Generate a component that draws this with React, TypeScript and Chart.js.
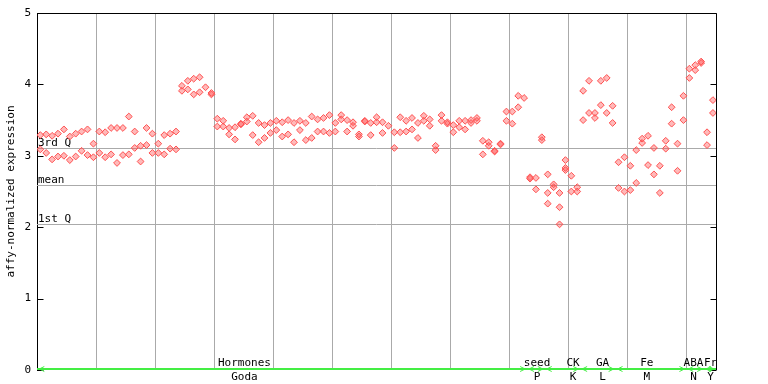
import React, { useEffect, useRef } from "react";
import { Chart, registerables } from "chart.js";

Chart.register(...registerables);

// Expression values per sample (index = sample position on the x axis)
const rep1: (number | null)[] = [
  3.29, 3.30, 3.28, 3.31, 3.37, 3.27, 3.31, 3.34, 3.37, 3.17,
  3.34, 3.33, 3.39, 3.39, 3.39, 3.55, 3.34, 3.14, 3.39, 3.31,
  3.17, 3.29, 3.31, 3.34, 3.98, 4.05, 4.08, 4.10, 3.96, 3.88,
  3.52, 3.49, 3.39, 3.40, 3.45, 3.54, 3.56, 3.46, 3.43, 3.46,
  3.49, 3.47, 3.50, 3.46, 3.49, 3.46, 3.55, 3.51, 3.53, 3.57,
  3.46, 3.57, 3.50, 3.47, 3.30, 3.49, 3.46, 3.54, 3.47, 3.42,
  3.33, 3.54, 3.49, 3.53, 3.46, 3.56, 3.51, 3.14, 3.57, 3.47,
  3.43, 3.49, 3.49, 3.50, 3.53, 3.21, 3.19, 3.07, 3.17, 3.62,
  3.62, 3.84, 3.81, 2.70, 2.69, 3.26, 2.74, 2.60, 2.48, 2.94,
  2.72, 2.56, 3.91, 4.05, 3.60, 4.05, 4.09, 3.70, 2.91, 2.98,
  2.86, 3.08, 3.24, 3.28, 3.11, 2.86, 3.21, 3.68, 3.17, 3.84,
  4.22, 4.27, 4.32, 3.33, 3.78,
];
const rep2: (number | null)[] = [
  3.09, 3.04, 2.95, 2.99, 3.00, 2.94, 2.99, 3.07, 3.01, 2.98,
  3.04, 2.98, 3.02, 2.90, 3.01, 3.02, 3.11, 2.92, 3.15, 3.04,
  3.04, 3.02, 3.10, 3.09, 3.91, 3.93, 3.86, 3.89, null, 3.86,
  3.41, 3.41, 3.30, 3.23, 3.44, 3.48, 3.29, 3.19, 3.25, 3.32,
  3.36, 3.27, 3.30, 3.19, 3.36, 3.22, 3.25, 3.34, 3.34, 3.32,
  3.34, 3.51, 3.34, 3.42, 3.27, 3.48, 3.29, 3.47, 3.32, null,
  3.11, 3.33, 3.34, 3.37, 3.25, 3.49, 3.42, 3.08, 3.49, 3.45,
  3.33, 3.40, 3.37, 3.46, 3.49, 3.02, 3.14, 3.06, 3.16, 3.49,
  3.45, 3.68, null, 2.68, 2.53, 3.22, 2.48, 2.56, 2.28, 2.83,
  2.50, 2.50, 3.50, 3.60, 3.53, 3.71, 3.60, 3.46, 2.55, 2.50,
  2.52, 2.62, 3.18, 2.87, 2.74, 2.48, 3.10, 3.45, 2.79, 3.50,
  4.09, 4.20, 4.30, 3.15, 3.60,
];
const rep3Index: number[] = [86, 88, 89];
const rep3Values: number[] = [2.33, 2.04, 2.80];

// Reference lines
const refNames: string[] = ["3rd Q", "mean", "1st Q"];
const refValues: number[] = [3.11, 2.59, 2.05];

// Y ticks
const yTicks: number[] = [0, 1, 2, 3, 4, 5];

// Sample groups
const groupNames: string[] = ["Hormones", "seed", "CK", "GA", "Fe", "ABA", "Fr"];
const groupSub: string[] = ["Goda", "P", "K", "L", "M", "N", "Y"];
const groupStart: number[] = [0, 83, 86, 92, 98, 110, 113];
const groupEnd: number[] = [82, 85, 91, 97, 109, 112, 114];
const groupLabelAt: number[] = [34.6, 84.2, 90.3, 95.3, 102.8, 110.7, 113.6];

const gridIdx: number[] = [9.44, 19.44, 29.44, 39.44, 49.44, 59.44, 69.44, 79.44, 89.44, 99.44, 109.44];

const FONT = "'DejaVu Sans Mono', monospace";
const RED = "#ff5050";

const toPoints = (arr: (number | null)[]) =>
  arr.map((v, i) => (v === null ? null : { x: i, y: v })).filter((p) => p !== null) as { x: number; y: number }[];

const overlay = {
  id: "overlay",
  beforeDatasetsDraw(chart: any) {
    const { ctx, chartArea } = chart;
    const y = chart.scales.y;
    ctx.save();
    ctx.strokeStyle = "#aaaaaa";
    ctx.lineWidth = 1;
    refValues.forEach((v, k) => {
      const py = Math.round(y.getPixelForValue(v)) + 0.5;
      ctx.beginPath();
      ctx.moveTo(chartArea.left, py);
      ctx.lineTo(chartArea.right, py);
      ctx.stroke();
      ctx.fillStyle = "#000";
      ctx.font = `11px ${FONT}`;
      ctx.textAlign = "left";
      ctx.textBaseline = "alphabetic";
      ctx.fillText(refNames[k], chartArea.left + 1, py - 2.5);
    });
    ctx.restore();
  },
  afterDraw(chart: any) {
    const { ctx, chartArea } = chart;
    const x = chart.scales.x;
    const y = chart.scales.y;
    const L = chartArea.left + 0.5;
    const R = Math.round(chartArea.right) + 0.5;
    const T = Math.round(chartArea.top) + 0.5;
    const B = chartArea.bottom;
    ctx.save();
    ctx.strokeStyle = "#000";
    ctx.lineWidth = 1;
    ctx.beginPath();
    ctx.moveTo(L, T);
    ctx.lineTo(R, T);
    ctx.lineTo(R, B);
    ctx.stroke();
    yTicks.forEach((v) => {
      const py = Math.round(y.getPixelForValue(v)) + 0.5;
      ctx.beginPath();
      ctx.moveTo(L, py);
      ctx.lineTo(L + 6, py);
      ctx.moveTo(R - 6, py);
      ctx.lineTo(R, py);
      ctx.stroke();
    });
    // green group line
    const gy = B - 1;
    ctx.strokeStyle = "#44ee44";
    ctx.lineWidth = 2;
    ctx.beginPath();
    ctx.moveTo(chartArea.left, gy);
    ctx.lineTo(chartArea.right, gy);
    ctx.stroke();
    ctx.lineWidth = 1;
    groupStart.forEach((s, k) => {
      const xs = x.getPixelForValue(s) - 1;
      const xe = x.getPixelForValue(groupEnd[k]) + 1;
      ctx.beginPath();
      ctx.moveTo(xs + 5, gy - 2.5);
      ctx.lineTo(xs, gy);
      ctx.lineTo(xs + 5, gy + 2.5);
      ctx.moveTo(xe - 5, gy - 2.5);
      ctx.lineTo(xe, gy);
      ctx.lineTo(xe - 5, gy + 2.5);
      ctx.stroke();
    });
    ctx.fillStyle = "#000";
    ctx.font = `11px ${FONT}`;
    ctx.textAlign = "center";
    ctx.textBaseline = "middle";
    groupNames.forEach((n, k) => {
      const px = x.getPixelForValue(groupLabelAt[k]);
      ctx.fillText(n, px, 363);
      ctx.fillText(groupSub[k], px, 377);
    });
    ctx.restore();
  },
};

export default function App() {
  const ref = useRef<HTMLCanvasElement>(null);
  useEffect(() => {
    if (!ref.current) return;
    const pointStyle = {
      pointStyle: "rectRot" as const,
      pointRadius: 3.4,
      pointBorderWidth: 1,
      pointBorderColor: RED,
      pointBackgroundColor: "rgba(255,80,80,0.4)",
      showLine: false,
    };
    const chart = new Chart(ref.current, {
      type: "scatter",
      data: {
        datasets: [
          { data: toPoints(rep1), ...pointStyle },
          { data: toPoints(rep2), ...pointStyle },
          { data: rep3Index.map((i, k) => ({ x: i, y: rep3Values[k] })), ...pointStyle },
        ],
      },
      options: {
        animation: false,
        responsive: false,
        maintainAspectRatio: false,
        layout: { padding: { left: 0, top: 13, right: 52, bottom: 0 } },
        plugins: { legend: { display: false }, tooltip: { enabled: false } },
        scales: {
          x: {
            type: "linear",
            min: -0.56,
            max: 114.52,
            afterBuildTicks: (s: any) => {
              s.ticks = gridIdx.map((v) => ({ value: v }));
            },
            afterFit: (s: any) => {
              s.height = 14;
            },
            ticks: { display: false },
            grid: { color: "#aaaaaa", lineWidth: 1, drawTicks: false },
            border: { display: false },
          },
          y: {
            min: 0,
            max: 5,
            afterFit: (s: any) => {
              s.width = 37;
            },
            afterBuildTicks: (s: any) => {
              s.ticks = yTicks.map((v) => ({ value: v }));
            },
            ticks: { color: "#000", font: { family: FONT, size: 11 }, padding: 6 },
            grid: { display: false, drawTicks: false },
            border: { display: true, color: "#000", width: 1 },
            title: {
              display: true,
              text: "affy-normalized expression",
              color: "#000",
              font: { family: FONT, size: 11 },
              padding: { top: 5, bottom: 0 },
            },
          },
        },
      },
      plugins: [overlay],
    });
    return () => chart.destroy();
  }, []);
  return (
    <div style={{ position: "absolute", left: 0, top: 0, width: 768, height: 384, background: "#fff" }}>
      <canvas ref={ref} width={768} height={384} style={{ width: 768, height: 384 }} />
    </div>
  );
}
